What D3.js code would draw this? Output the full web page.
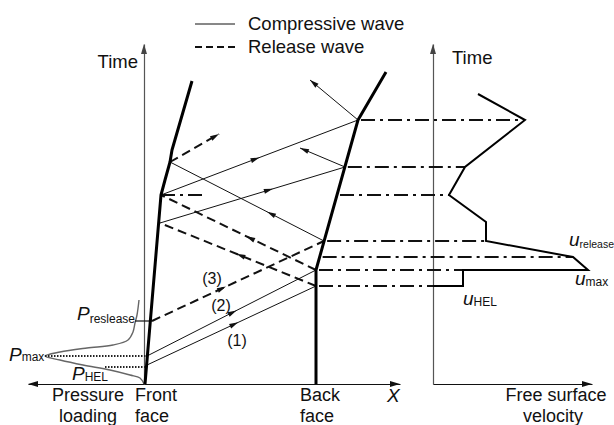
<!DOCTYPE html>
<html>
<head>
<meta charset="utf-8">
<script src="https://cdn.jsdelivr.net/npm/d3@7"></script>
<style>
  body { margin: 0; background: #fff; }
  svg { display: block; font-family: "Liberation Sans", Arial, sans-serif; }
</style>
</head>
<body>
<div id="chart"></div>
<script>
// diagram units: [position, time] in the plate, [velocity, time] and [pressure, time] on the side panels
const frontFace = [[1, 0], [17, 189], [21, 204], [26, 222], [28, 234], [48, 303]];
const backFace = [[172, 0], [172, 114], [214, 264], [242, 312]];

// [start, end, where the arrow sits along the wave]
const compressiveWaves = [
    [[3, 19], [172, 98], 0.54],
    [[3, 28], [172, 114], 0.53],
    [[16, 161], [201, 217], 0.61],
    [[17, 189], [214, 264], 0.5],
    [[180, 143], [26, 222], 0.37]
];
const releaseWaves = [
    [[8, 63], [180, 143], 0.43],
    [[172, 98], [16, 161], 0.51],
    [[172, 114], [17, 189], 0.45]
];
const outgoingCompressive = [[[201, 217], [156, 236]], [[214, 264], [166, 304]]];
const outgoingRelease = [[[26, 222], [75, 250]]];

const frontLevel = [17, 63, 189];          // from, to, time
const backLevels = [264, 217, 189, 143, 127, 114, 98];
const levelVelocity = [92, 32, 16, 53, 140, 30, 0];

const velocityCurve = [[0, 98], [30, 98], [30, 114], [155, 114], [140, 127], [53, 143],
    [53, 162], [16, 189], [32, 217], [92, 264], [45, 290]];

const pressureCurve = [[0, 0], [4, 6], [14, 9], [34, 14], [61, 19], [84, 24], [99, 28],
    [84, 32], [57, 36], [31, 39], [16, 44], [11, 52], [9, 61], [7, 69], [5, 84]];
const pressureMax = [99, 28];
const pressureHEL = [39, 17];
const pressureRelease = [9, 63];

const width = 614, height = 425;

const svg = d3.select("#chart").append("svg")
    .attr("width", width)
    .attr("height", height);

const xPos = d3.scaleLinear().domain([0, 256]).range([144, 400]);
const yT = d3.scaleLinear().domain([0, 340]).range([384, 44]);
const xVel = d3.scaleLinear().domain([0, 159]).range([433, 592]);
const xP = d3.scaleLinear().domain([0, 116]).range([144, 28]);
const xSpan = d3.scaleLinear().domain([-116, 256]).range([28, 400]);

function arrowHead(x, y, angle, len, wid, color) {
    const c = Math.cos(angle), s = Math.sin(angle);
    const pts = [[0, 0], [-len, -wid / 2], [-len, wid / 2]]
        .map(([a, b]) => [x + a * c - b * s, y + a * s + b * c]);
    svg.append("path")
        .attr("d", "M" + pts.join("L") + "Z")
        .attr("fill", color);
}

function backAt(t) {
    for (let i = 1; i < backFace.length; i++) {
        const [p0, t0] = backFace[i - 1], [p1, t1] = backFace[i];
        if (t <= t1) return p0 + (p1 - p0) * (t - t0) / (t1 - t0);
    }
    return backFace[backFace.length - 1][0];
}

// axes, no ticks
function styleAxis(g, color) {
    g.select(".domain").attr("stroke", color).attr("stroke-width", 1.2);
}
svg.append("g").attr("transform", `translate(0,${yT(0)})`)
    .call(d3.axisBottom(xSpan).tickValues([]).tickSizeOuter(0))
    .call(g => styleAxis(g, "#111"));
svg.append("g").attr("transform", `translate(${xPos(0)},0)`)
    .call(d3.axisLeft(yT).tickValues([]).tickSizeOuter(0))
    .call(g => styleAxis(g, "#555"));
svg.append("g").attr("transform", `translate(${xVel(0)},0)`)
    .call(d3.axisRight(yT).tickValues([]).tickSizeOuter(0))
    .call(g => styleAxis(g, "#555"));
svg.append("g").attr("transform", `translate(0,${yT(0)})`)
    .call(d3.axisBottom(xVel).tickValues([]).tickSizeOuter(0))
    .call(g => styleAxis(g, "#111"));

arrowHead(xSpan(-116), yT(0), Math.PI, 10, 6, "#111");
arrowHead(xSpan(256), yT(0), 0, 10, 6, "#111");
arrowHead(xVel(159), yT(0), 0, 10, 6, "#111");
arrowHead(xPos(0), yT(340), -Math.PI / 2, 10, 6, "#444");
arrowHead(xVel(0), yT(340), -Math.PI / 2, 10, 6, "#444");

const posLine = d3.line().x(d => xPos(d[0])).y(d => yT(d[1]));

// pressure loading profile
svg.append("path")
    .datum(pressureCurve)
    .attr("d", d3.line().x(d => xP(d[0])).y(d => yT(d[1])).curve(d3.curveCatmullRom.alpha(0.5)))
    .attr("fill", "none")
    .attr("stroke", "#666")
    .attr("stroke-width", 1.4);

[pressureMax, pressureHEL].forEach(d => {
    svg.append("line")
        .attr("x1", xP(d[0])).attr("x2", xPos(3))
        .attr("y1", yT(d[1])).attr("y2", yT(d[1]))
        .attr("stroke", "#222")
        .attr("stroke-width", 2)
        .attr("stroke-dasharray", "1.5,1.5");
});
svg.append("line")
    .attr("x1", xP(pressureRelease[0])).attr("x2", xPos(8))
    .attr("y1", yT(pressureRelease[1])).attr("y2", yT(pressureRelease[1]))
    .attr("stroke", "#111")
    .attr("stroke-width", 1.2);

// dash-dot time levels
const dashDot = "14,5,3,5";
svg.append("line")
    .attr("x1", xPos(frontLevel[0])).attr("x2", xPos(frontLevel[1]))
    .attr("y1", yT(frontLevel[2])).attr("y2", yT(frontLevel[2]))
    .attr("stroke", "#111").attr("stroke-width", 2)
    .attr("stroke-dasharray", dashDot);

backLevels.forEach((t, i) => {
    svg.append("line")
        .attr("x1", xPos(backAt(t)) + 3).attr("x2", xVel(levelVelocity[i]))
        .attr("y1", yT(t)).attr("y2", yT(t))
        .attr("stroke", "#111").attr("stroke-width", 2)
        .attr("stroke-dasharray", dashDot);
});

// waves
function drawWave(w, dashed) {
    const [a, b, f] = w;
    svg.append("path")
        .datum([a, b])
        .attr("d", posLine)
        .attr("fill", "none")
        .attr("stroke", "#111")
        .attr("stroke-width", dashed ? 2 : 1)
        .attr("stroke-dasharray", dashed ? "9,5" : null);
    const x0 = xPos(a[0]), y0 = yT(a[1]), x1 = xPos(b[0]), y1 = yT(b[1]);
    const ang = Math.atan2(y1 - y0, x1 - x0);
    const frac = f === undefined ? 1 : f;
    arrowHead(x0 + (x1 - x0) * frac, y0 + (y1 - y0) * frac, ang, 9, 5, "#111");
}
compressiveWaves.forEach(w => drawWave(w, false));
releaseWaves.forEach(w => drawWave(w, true));
outgoingCompressive.forEach(w => drawWave(w, false));
outgoingRelease.forEach(w => drawWave(w, true));

// front and back faces
[frontFace, backFace].forEach(face => {
    svg.append("path")
        .datum(face)
        .attr("d", posLine)
        .attr("fill", "none")
        .attr("stroke", "#000")
        .attr("stroke-width", 3)
        .attr("stroke-linejoin", "round");
});

// free surface velocity
svg.append("path")
    .datum(velocityCurve)
    .attr("d", d3.line().x(d => xVel(d[0])).y(d => yT(d[1])))
    .attr("fill", "none")
    .attr("stroke", "#000")
    .attr("stroke-width", 2);

// legend
svg.append("line").attr("x1", 195).attr("x2", 235).attr("y1", 24).attr("y2", 24)
    .attr("stroke", "#111").attr("stroke-width", 1);
svg.append("line").attr("x1", 195).attr("x2", 235).attr("y1", 47).attr("y2", 47)
    .attr("stroke", "#111").attr("stroke-width", 2).attr("stroke-dasharray", "7,4");

function label(x, y, txt, opts = {}) {
    return svg.append("text")
        .attr("x", x).attr("y", y)
        .attr("font-size", opts.size || 18.5)
        .attr("text-anchor", opts.anchor || "start")
        .attr("font-style", opts.italic ? "italic" : null)
        .attr("fill", "#111")
        .text(txt);
}
label(248, 30, "Compressive wave");
label(248, 53, "Release wave");
label(138, 68, "Time", { anchor: "end" });
label(452, 64, "Time");

label(88, 401, "Pressure", { anchor: "middle", size: 18 });
label(88, 422, "loading", { anchor: "middle", size: 18 });
label(135, 401, "Front", { size: 18 });
label(135, 422, "face", { size: 18 });
label(300, 401, "Back", { size: 18 });
label(300, 422, "face", { size: 18 });
label(387, 402, "X", { italic: true, size: 19 });
label(556, 401, "Free surface", { anchor: "middle", size: 18 });
label(553, 422, "velocity", { anchor: "middle", size: 18 });

label(237, 346, "(1)", { anchor: "middle", size: 16 });
label(221, 311, "(2)", { anchor: "middle", size: 16 });
label(212, 284, "(3)", { anchor: "middle", size: 16 });

function subLabel(x, y, main, sub, dy, subSize) {
    const t = label(x, y, main, { italic: true, size: 19 });
    t.append("tspan")
        .attr("font-style", "normal")
        .attr("font-size", subSize || 12)
        .attr("dy", dy)
        .text(sub);
}
subLabel(9, 361, "P", "max", 0);
subLabel(72, 380, "P", "HEL", 1);
subLabel(77, 320, "P", "reslease", 3);
subLabel(569, 246, "u", "release", 2, 10.5);
subLabel(575, 285, "u", "max", 1);
subLabel(463, 305, "u", "HEL", 1);
</script>
</body>
</html>
